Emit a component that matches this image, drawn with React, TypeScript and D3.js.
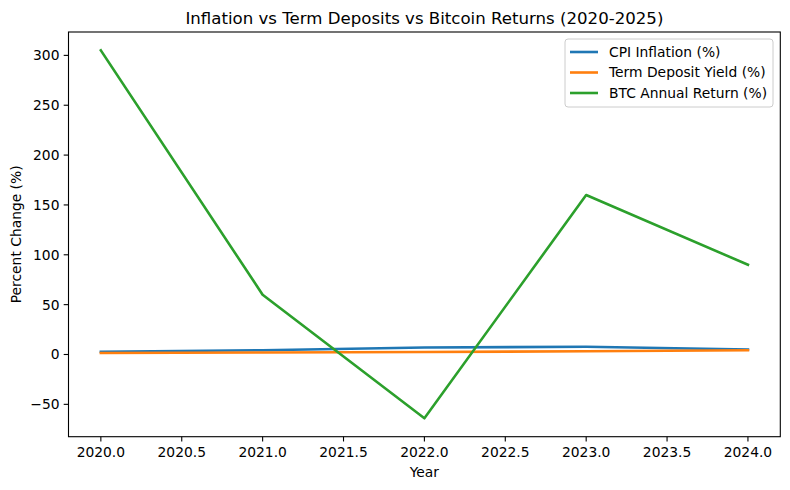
import React from 'react';
import * as d3 from 'd3';

const years = [2020, 2021, 2022, 2023, 2024];
const cpiInflation = [2.8, 4.3, 7.0, 7.7, 5.0];
const termDepositYield = [1.5, 2.0, 2.5, 3.3, 4.3];
const btcReturn = [305, 60, -64, 160, 90];

const seriesNames = ['CPI Inflation (%)', 'Term Deposit Yield (%)', 'BTC Annual Return (%)'];
const seriesColors = ['#1f77b4', '#ff7f0e', '#2ca02c'];
const xTicks = [2020, 2020.5, 2021, 2021.5, 2022, 2022.5, 2023, 2023.5, 2024];
const yTicks = [-50, 0, 50, 100, 150, 200, 250, 300];

const width = 790;
const height = 490;
const margin = { top: 32, right: 9.7, bottom: 53.3, left: 68.5 };
const font = '"DejaVu Sans", sans-serif';
const fs = 13.85;

const App: React.FC = () => {
  const innerW = width - margin.left - margin.right;
  const innerH = height - margin.top - margin.bottom;

  const x = d3.scaleLinear().domain([2019.8, 2024.2]).range([0, innerW]);
  const allValues = [...cpiInflation, ...termDepositYield, ...btcReturn];
  const yMin = d3.min(allValues) as number;
  const yMax = d3.max(allValues) as number;
  const pad = (yMax - yMin) * 0.05;
  const y = d3.scaleLinear().domain([yMin - pad, yMax + pad]).range([innerH, 0]);

  const line = d3
    .line<number>()
    .x((_, i) => x(years[i]))
    .y((d) => y(d));

  const series = [cpiInflation, termDepositYield, btcReturn];

  return (
    <svg width={width} height={height} style={{ display: 'block', margin: '-8px' }}>
      <rect width={width} height={height} fill="white" />
      <text x={margin.left + innerW / 2} y={23.5} textAnchor="middle" fontFamily={font} fontSize={16.6} fill="#000">
        Inflation vs Term Deposits vs Bitcoin Returns (2020-2025)
      </text>
      <g transform={`translate(${margin.left},${margin.top})`}>
        <defs>
          <clipPath id="plot-clip">
            <rect width={innerW} height={innerH} />
          </clipPath>
        </defs>
        <g clipPath="url(#plot-clip)">
          {series.map((s, i) => (
            <path
              key={seriesNames[i]}
              d={line(s) ?? ''}
              fill="none"
              stroke={seriesColors[i]}
              strokeWidth={2.6}
              strokeLinejoin="round"
              strokeLinecap="square"
            />
          ))}
        </g>

        {/* x axis */}
        {xTicks.map((t) => (
          <g key={t} transform={`translate(${x(t)},${innerH})`}>
            <line y2={4.8} stroke="#000" strokeWidth={1.1} />
            <text y={20.8} textAnchor="middle" fontFamily={font} fontSize={fs} fill="#000">
              {t.toFixed(1)}
            </text>
          </g>
        ))}
        {/* y axis */}
        {yTicks.map((t) => (
          <g key={t} transform={`translate(0,${y(t)})`}>
            <line x2={-4.8} stroke="#000" strokeWidth={1.1} />
            <text x={-9} dy="0.36em" textAnchor="end" fontFamily={font} fontSize={fs} fill="#000">
              {t < 0 ? `\u2212${Math.abs(t)}` : t}
            </text>
          </g>
        ))}
        <rect width={innerW} height={innerH} fill="none" stroke="#000" strokeWidth={1.1} />

        <text x={innerW / 2} y={innerH + 40.5} textAnchor="middle" fontFamily={font} fontSize={fs} fill="#000">
          Year
        </text>
        <text
          transform={`translate(${16 - margin.left},${innerH / 2}) rotate(-90)`}
          textAnchor="middle"
          dy="0.35em"
          fontFamily={font}
          fontSize={fs}
          fill="#000"
        >
          Percent Change (%)
        </text>

        {/* legend */}
        <g transform={`translate(${565 - margin.left},${39 - margin.top})`}>
          <rect width={208} height={68} rx={3} fill="white" fillOpacity={0.8} stroke="#ccc" strokeWidth={1} />
          {seriesNames.map((name, i) => (
            <g key={name} transform={`translate(0,${13 + i * 20.5})`}>
              <line x1={5} x2={33} stroke={seriesColors[i]} strokeWidth={2.6} />
              <text x={44} dy="0.35em" fontFamily={font} fontSize={fs} fill="#000">
                {name}
              </text>
            </g>
          ))}
        </g>
      </g>
    </svg>
  );
};

export default App;
